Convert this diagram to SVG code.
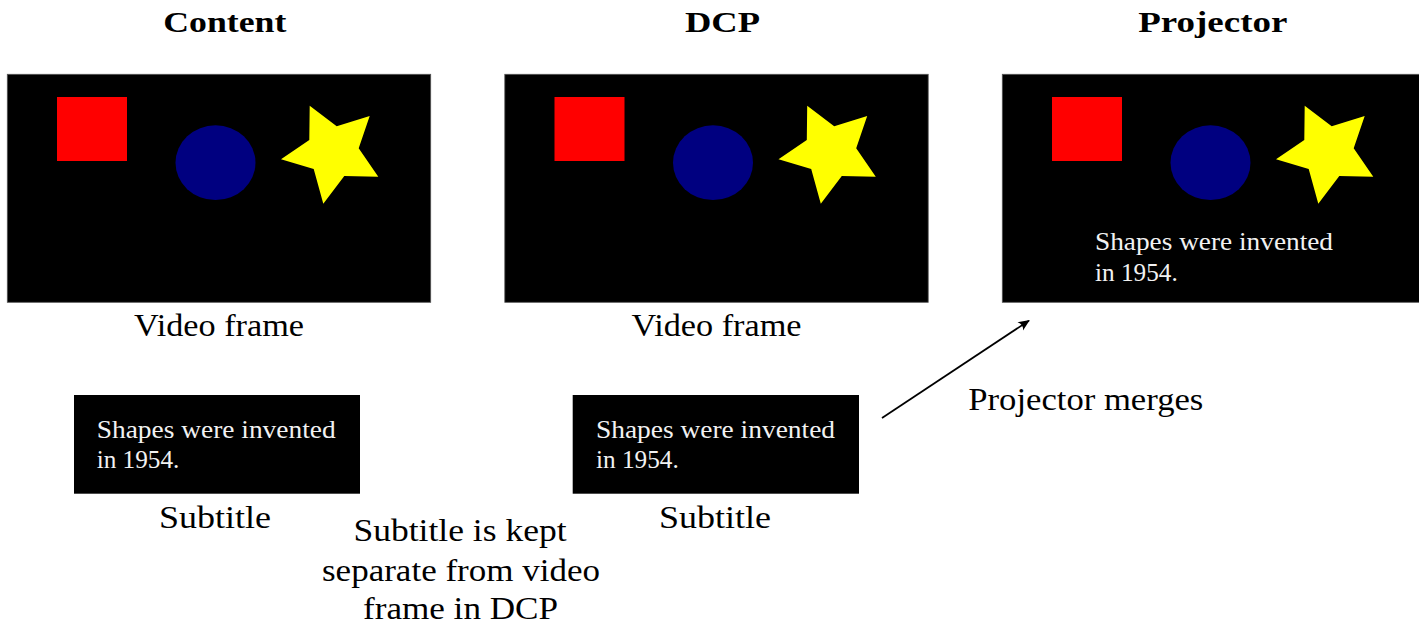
<svg xmlns="http://www.w3.org/2000/svg" xmlns:xlink="http://www.w3.org/1999/xlink" width="1419" height="625" viewBox="0 0 1419 625">
  <style>
    .title { font-family: "Liberation Serif", serif; font-weight: bold; font-size: 30px; fill: #000; }
    .label { font-family: "Liberation Serif", serif; font-size: 31px; fill: #000; }
    .sub { font-family: "Liberation Serif", serif; font-size: 25px; fill: #f2f2f2; }
    .frame { fill: #000; stroke: #555; stroke-width: 0.8; }
    .box { fill: #000; }
    .conn { fill: none; stroke: #000; stroke-width: 1.7; }
  </style>
  <defs>
    <!-- shapes shown inside every video frame, in frame-local coordinates -->
    <g id="frame-content">
      <rect class="frame" x="7.3" y="74.3" width="423.4" height="228"/>
      <rect x="57" y="97" width="70" height="64" fill="#ff0000"/>
      <ellipse cx="215.5" cy="162.7" rx="40" ry="37.4" fill="#000080"/>
      <polygon fill="#ffff00" points="309.7,105.7 336.7,126.3 369.7,116 358.7,148.3 378.3,176.7 344.3,176 323.3,203.7 313.7,169 281,159.3 309.3,140"/>
    </g>
    <marker id="arrowhead" markerUnits="userSpaceOnUse" markerWidth="16" markerHeight="12" refX="0" refY="0" viewBox="-12 -6 14 12" orient="auto">
      <path d="M1,0 L-10.5,-5 Q-6.5,0 -10.5,5 Z" fill="#000"/>
    </marker>
  </defs>

  <!-- column titles -->
  <g id="titles">
    <text class="title" x="163.3" y="31.7" textLength="123" lengthAdjust="spacingAndGlyphs">Content</text>
    <text class="title" x="685" y="31.7" textLength="75" lengthAdjust="spacingAndGlyphs">DCP</text>
    <text class="title" x="1138.3" y="31.7" textLength="149" lengthAdjust="spacingAndGlyphs">Projector</text>
  </g>

  <!-- Content: video frame -->
  <g id="content-frame">
    <use xlink:href="#frame-content"/>
    <text class="label" x="219" y="336" text-anchor="middle" textLength="170" lengthAdjust="spacingAndGlyphs">Video frame</text>
  </g>

  <!-- Content: subtitle -->
  <g id="content-subtitle">
    <rect class="box" x="74" y="395" width="286" height="98.7"/>
    <text class="sub" x="96.7" y="438.3" textLength="239" lengthAdjust="spacingAndGlyphs">Shapes were invented</text>
    <text class="sub" x="96.7" y="468.3" textLength="82.7" lengthAdjust="spacingAndGlyphs">in 1954.</text>
    <text class="label" x="215" y="528" text-anchor="middle" textLength="112" lengthAdjust="spacingAndGlyphs">Subtitle</text>
  </g>

  <!-- DCP: video frame -->
  <g id="dcp-frame">
    <use xlink:href="#frame-content" transform="translate(497.5 0)"/>
    <text class="label" x="716.5" y="336" text-anchor="middle" textLength="170" lengthAdjust="spacingAndGlyphs">Video frame</text>
  </g>

  <!-- DCP: subtitle -->
  <g id="dcp-subtitle">
    <rect class="box" x="572.7" y="395" width="286.3" height="98.7"/>
    <text class="sub" x="596" y="438.3" textLength="239" lengthAdjust="spacingAndGlyphs">Shapes were invented</text>
    <text class="sub" x="596" y="468.3" textLength="82.7" lengthAdjust="spacingAndGlyphs">in 1954.</text>
    <text class="label" x="715" y="528" text-anchor="middle" textLength="112" lengthAdjust="spacingAndGlyphs">Subtitle</text>
  </g>

  <!-- Projector: merged frame with burnt-in subtitle -->
  <g id="projector-frame">
    <use xlink:href="#frame-content" transform="translate(995 0)"/>
    <text class="sub" x="1095" y="250" textLength="238" lengthAdjust="spacingAndGlyphs">Shapes were invented</text>
    <text class="sub" x="1095" y="281" textLength="82.7" lengthAdjust="spacingAndGlyphs">in 1954.</text>
  </g>

  <!-- explanatory note between the columns -->
  <g id="note-separate">
    <text class="label" x="460" y="541" text-anchor="middle" textLength="213" lengthAdjust="spacingAndGlyphs">Subtitle is kept</text>
    <text class="label" x="461" y="581" text-anchor="middle" textLength="278" lengthAdjust="spacingAndGlyphs">separate from video</text>
    <text class="label" x="460.5" y="619" text-anchor="middle" textLength="195" lengthAdjust="spacingAndGlyphs">frame in DCP</text>
  </g>

  <!-- connectors -->
  <g id="connectors">
    <line class="conn" x1="882" y1="418" x2="1029" y2="320.6" marker-end="url(#arrowhead)"/>
    <text class="label" x="968.3" y="410" textLength="235" lengthAdjust="spacingAndGlyphs">Projector merges</text>
  </g>
</svg>
